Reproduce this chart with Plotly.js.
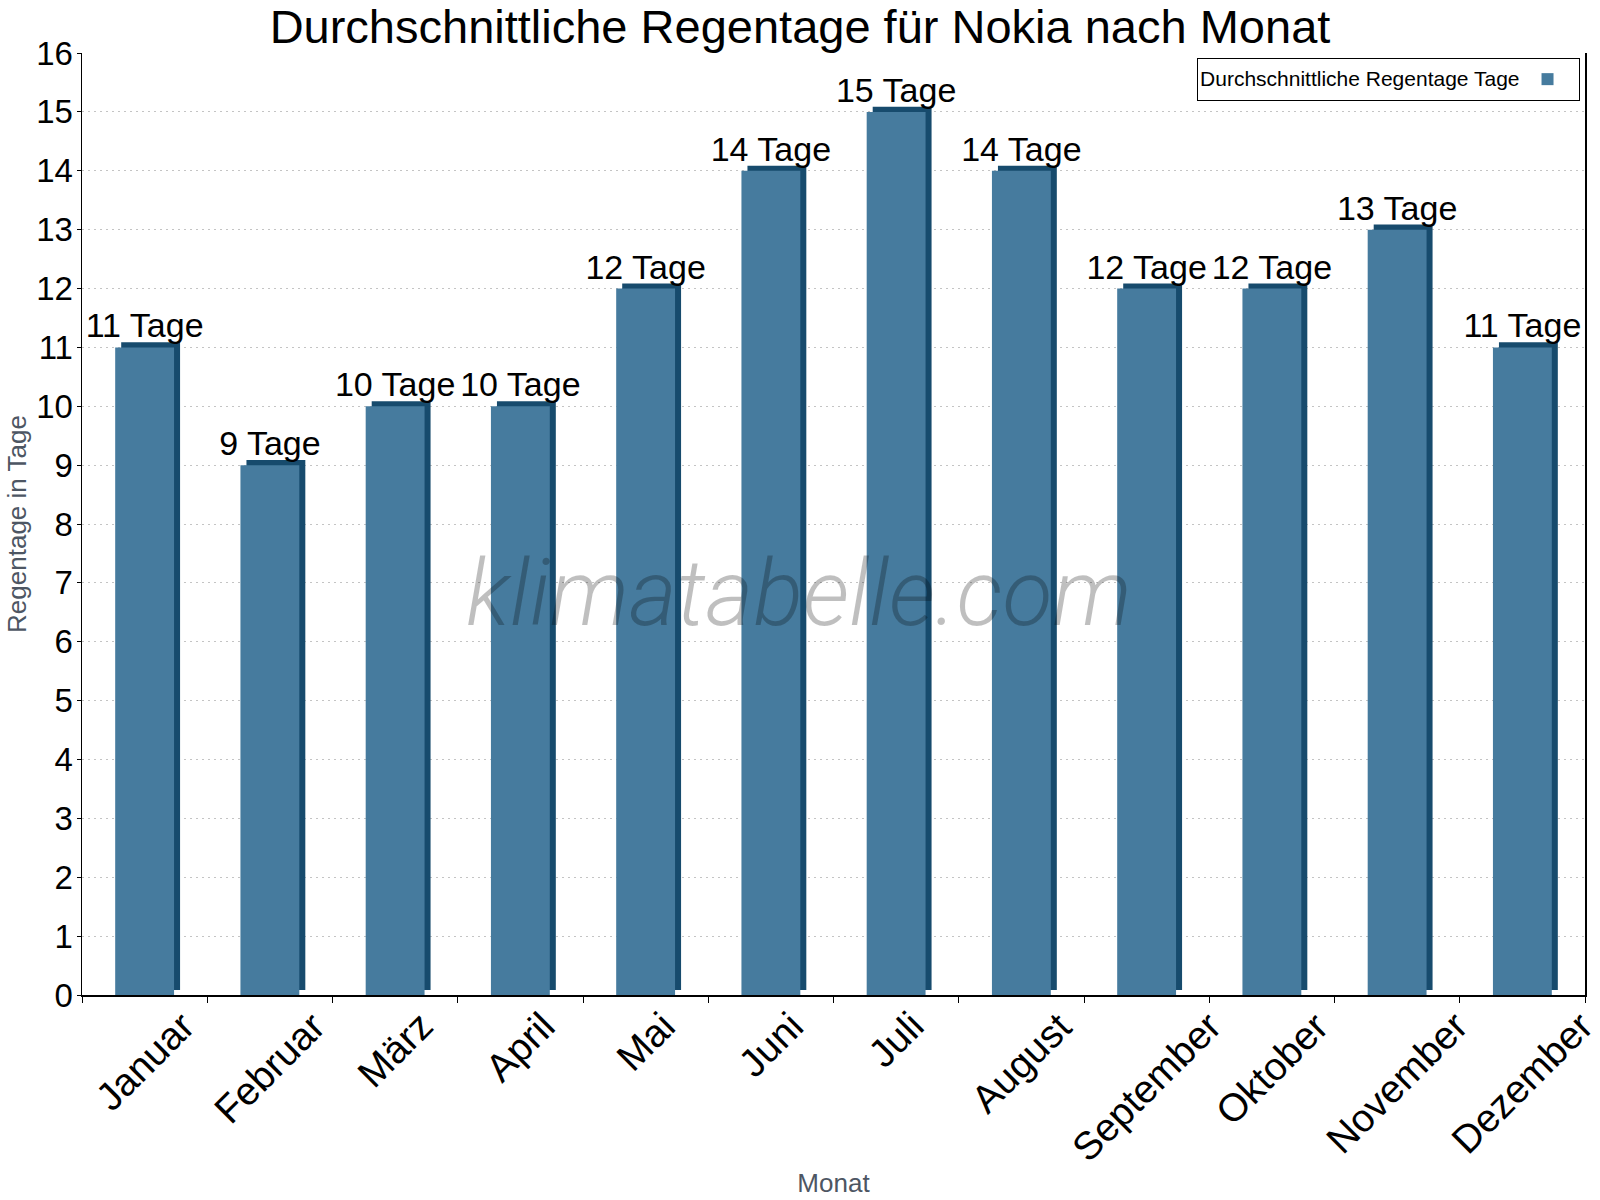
<!DOCTYPE html>
<html>
<head>
<meta charset="utf-8">
<script src="https://cdn.plot.ly/plotly-3.0.1.min.js"></script>
<style>html,body{margin:0;padding:0;background:#fff;}#chart{width:1600px;height:1200px;}</style>
</head>
<body>
<div id="chart"></div>
<script>
const months = ["Januar","Februar","März","April","Mai","Juni","Juli","August","September","Oktober","November","Dezember"];
const rainDays = [11, 9, 10, 10, 12, 14, 15, 14, 12, 12, 13, 11];
const labels = rainDays.map(v => v + " Tage");
const seriesName = "Durchschnittliche Regentage Tage";

const FONT = "Arial, 'Liberation Sans', sans-serif";
const front = "#467b9e";
const side = "#174b6d";

// 3D depth shading (side + top), same values, shifted a few pixels
const depth = {
  type: "bar", x: months, y: rainDays, base: 0.085,
  width: 0.47, offset: -0.187,
  marker: {color: side, line: {width: 0}},
  hoverinfo: "skip", showlegend: false
};
const main = {
  type: "bar", x: months, y: rainDays, name: " ",
  width: 0.47, offset: -0.235,
  marker: {color: front, line: {width: 0}},
  text: labels, textposition: "outside", constraintext: "none", cliponaxis: false,
  textfont: {family: FONT, size: 34, color: "#000"},
  showlegend: true
};

// month labels: rotated, centred under each category (placed on the x axis scale)
const monthLabels = months.map(m => ({
  text: m, xref: "x", x: m, yref: "paper", y: 0, yshift: -6,
  textangle: -45, xanchor: "center", yanchor: "top", showarrow: false,
  font: {family: FONT, size: 39, color: "#000"}
}));

const layout = {
  width: 1600, height: 1200,
  paper_bgcolor: "#fff", plot_bgcolor: "#fff",
  margin: {l: 82, r: 15, t: 53, b: 205},
  barmode: "overlay",
  font: {family: FONT, color: "#000"},
  title: {text: "Durchschnittliche Regentage für Nokia nach Monat", font: {family: FONT, size: 47, color: "#000"},
          x: 0.5, xanchor: "center", y: 0.978, yanchor: "middle"},
  xaxis: {
    type: "category", range: [-0.5, 11.5], autorange: false,
    tickson: "boundaries", showticklabels: false,
    ticks: "outside", ticklen: 6, tickcolor: "#000",
    showline: true, linecolor: "#000", linewidth: 1.5,
    showgrid: false,
    title: {text: "Monat", font: {family: FONT, size: 26, color: "#4d5663"}, standoff: 178}
  },
  yaxis: {
    range: [0, 16], autorange: false, dtick: 1, ticks: "outside", ticklen: 4, tickcolor: "#000",
    showline: true, linecolor: "#000", linewidth: 1.5, mirror: true,
    showgrid: true, gridcolor: "#c4c4c4", griddash: "2px,4px", gridwidth: 1,
    zeroline: false, ticklabelstandoff: -3,
    tickfont: {family: FONT, size: 33, color: "#000"},
    title: {text: "Regentage in Tage", font: {family: FONT, size: 26, color: "#4d5663"}, standoff: 2}
  },
  legend: {
    x: 0.9967, xanchor: "right", y: 0.9947, yanchor: "top",
    orientation: "h", bgcolor: "#fff", bordercolor: "#000", borderwidth: 1,
    title: {text: seriesName, side: "left", font: {family: FONT, size: 21, color: "#000"}},
    font: {family: FONT, size: 21, color: "#000"},
    itemwidth: 30
  },
  annotations: monthLabels.concat([{
    text: "klimatabelle.com", xref: "paper", yref: "paper", x: 0.477, y: 0.4265,
    showarrow: false,
    font: {family: "Roboto, sans-serif", size: 92,
           style: "italic", weight: 300, color: "rgba(0,0,0,0.25)"},
    xanchor: "center", yanchor: "middle"
  }])
};

Plotly.newPlot("chart", [depth, main], layout, {displayModeBar: false, staticPlot: true});
</script>
</body>
</html>
